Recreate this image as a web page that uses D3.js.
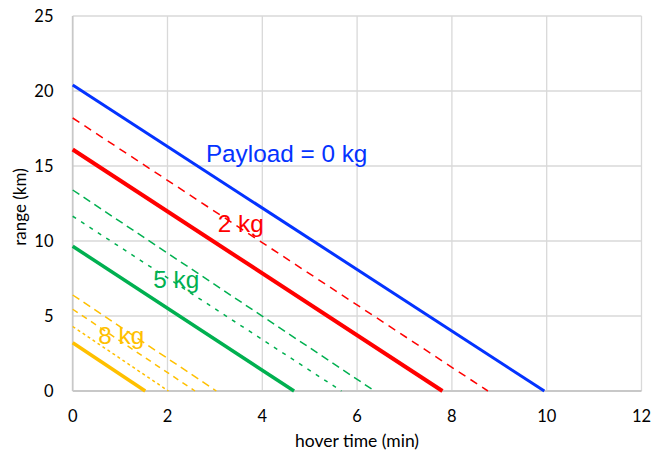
<!DOCTYPE html>
<html><head><meta charset="utf-8">
<script src="https://cdn.jsdelivr.net/npm/d3@7"></script>
<style>body{margin:0;background:#fff}svg{display:block}</style>
</head><body>
<script>
const seriesNames = ["0kg","2kg-dash","2kg","5kg-dash","5kg-short","5kg","8kg-dash","8kg-mid","8kg-dot","8kg"];
const rangeAtZero = [20.4, 18.2, 16.1, 13.4, 11.65, 9.65, 6.4, 5.45, 4.3, 3.22];
const hoverAtZero = [9.95, 8.76, 7.8, 6.37, 5.67, 4.67, 3.03, 2.58, 2.02, 1.53];
const seriesColors = ["#0433ff","#ff0000","#ff0000","#00b050","#00b050","#00b050","#ffc000","#ffc000","#ffc000","#ffc000"];
const seriesWidths = [3, 1.5, 4, 1.5, 1.5, 3.5, 1.5, 1.5, 1.5, 3.5];
const seriesDash = [null, "8,6", null, "8,5", "4,6", null, "8,5", "6,5", "3,3", null];
const xTicks = [0,2,4,6,8,10,12];
const yTicks = [0,5,10,15,20,25];
const labels = ["Payload = 0 kg","2 kg","5 kg","8 kg"];
const labelColors = ["#0433ff","#ff0000","#00b050","#ffc000"];
const labelPos = [[2.81,15.27],[3.06,10.62],[1.70,6.89],[0.54,3.13]];

const W=652,H=456;
const svg=d3.select("body").append("svg").attr("width",W).attr("height",H);
const x=d3.scaleLinear().domain([0,12]).range([72.7,641.5]);
const y=d3.scaleLinear().domain([0,25]).range([391,16]);

// grid
svg.append("g").selectAll("line").data(xTicks.filter(d=>d>0)).join("line")
  .attr("x1",d=>x(d)).attr("x2",d=>x(d)).attr("y1",y(0)).attr("y2",y(25))
  .attr("stroke","#d9d9d9").attr("stroke-width",1.3);
svg.append("g").selectAll("line").data(yTicks.filter(d=>d>0)).join("line")
  .attr("x1",x(0)).attr("x2",x(12)).attr("y1",d=>y(d)).attr("y2",d=>y(d))
  .attr("stroke","#d9d9d9").attr("stroke-width",1.3);
// axis lines
svg.append("line").attr("x1",x(0)).attr("x2",x(0)).attr("y1",y(0)).attr("y2",y(25)).attr("stroke","#c8c8c8").attr("stroke-width",1.8);
svg.append("line").attr("x1",x(0)).attr("x2",x(12)).attr("y1",y(0)).attr("y2",y(0)).attr("stroke","#c8c8c8").attr("stroke-width",1.8);

const font="Lato, 'Open Sans', sans-serif";
svg.append("g").selectAll("text").data(xTicks).join("text")
  .attr("x",d=>x(d)).attr("y",421.5).attr("text-anchor","middle")
  .attr("font-family",font).attr("font-size",16.5).attr("fill","#000").text(d=>d);
svg.append("g").selectAll("text").data(yTicks).join("text")
  .attr("x",53.5).attr("y",d=>y(d)+5.8).attr("text-anchor","end")
  .attr("font-family",font).attr("font-size",16.5).attr("fill","#000").text(d=>d);

svg.append("text").attr("x",357).attr("y",447).attr("text-anchor","middle")
  .attr("font-family",font).attr("font-size",17.5).text("hover time (min)");
svg.append("text").attr("transform","translate(26,207) rotate(-90)").attr("text-anchor","middle")
  .attr("font-family",font).attr("font-size",17).text("range (km)");

// lines
const line=d3.line().x(d=>x(d[0])).y(d=>y(d[1]));
svg.append("g").selectAll("path").data(seriesNames.map((n,i)=>i)).join("path")
  .attr("d",i=>line([[0,rangeAtZero[i]],[hoverAtZero[i],0]]))
  .attr("fill","none").attr("stroke",i=>seriesColors[i]).attr("stroke-width",i=>seriesWidths[i])
  .attr("stroke-dasharray",i=>seriesDash[i]);

svg.append("g").selectAll("text").data(labels).join("text")
  .attr("x",(d,i)=>x(labelPos[i][0])).attr("y",(d,i)=>y(labelPos[i][1]))
  .attr("font-family","'Liberation Sans', Arial, sans-serif").attr("font-size",24.3)
  .attr("fill",(d,i)=>labelColors[i]).text(d=>d);
</script>
</body></html>
